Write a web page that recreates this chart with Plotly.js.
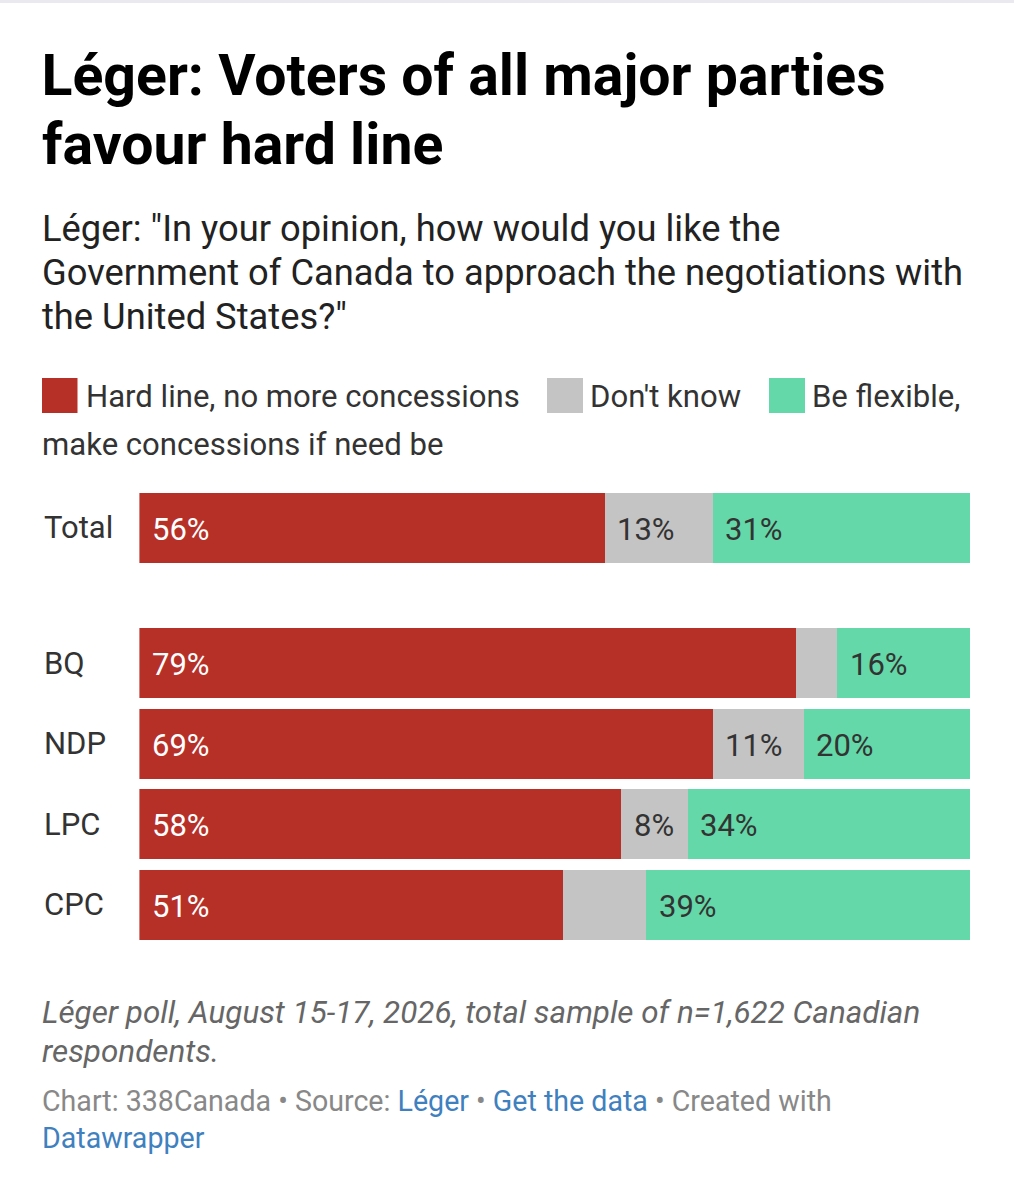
<!DOCTYPE html>
<html><head><meta charset="utf-8">
<script src="https://cdn.plot.ly/plotly-3.0.1.min.js"></script>
<style>html,body{margin:0;padding:0;background:#fff}</style></head>
<body><div id="chart" style="width:1014px;height:1199px"></div>
<script>
const totalCategories = ["Total"];
const partyCategories = ["BQ", "NDP", "LPC", "CPC"];
const hardLineTotal = [56];
const dontKnowTotal = [13];
const flexibleTotal = [31];
const hardLineParty = [79, 69, 58, 51];
const dontKnowParty = [5, 11, 8, 10];
const flexibleParty = [16, 20, 34, 39];
const dontKnowTotalLabels = ["13%"];
const dontKnowPartyLabels = ["", "11%", "8%", ""];
const seriesNames = ["Hard line, no more concessions", "Don't know", "Be flexible, make concessions if need be"];
const subtitleLines = ['Léger: "In your opinion, how would you like the', "Government of Canada to approach the negotiations with", 'the United States?"'];
const noteLines = ["Léger poll, August 15-17, 2026, total sample of n=1,622 Canadian", "respondents."];
const RED = "#b73028", GREY = "#c4c4c4", GREEN = "#64d8a8", INK = "#333333";
const W = 1014, H = 1199, FONT = "Roboto, sans-serif";
const px = v => v / W, py = v => 1 - v / H;

function bar(name, cats, vals, color, yaxis) {
  return {type: "bar", orientation: "h", name, y: cats, x: vals, yaxis, xaxis: "x",
    marker: {color, line: {width: 0}}, hoverinfo: "y+x+name", showlegend: false};
}
const traces = [
  bar(seriesNames[0], totalCategories, hardLineTotal, RED, "y"),
  bar(seriesNames[1], totalCategories, dontKnowTotal, GREY, "y"),
  bar(seriesNames[2], totalCategories, flexibleTotal, GREEN, "y"),
  bar(seriesNames[0], partyCategories, hardLineParty, RED, "y2"),
  bar(seriesNames[1], partyCategories, dontKnowParty, GREY, "y2"),
  bar(seriesNames[2], partyCategories, flexibleParty, GREEN, "y2")
];

function text(t, x, y, size, color) {
  return {text: t, xref: "paper", yref: "paper", x: px(x - 2.5), y: py(y), xanchor: "left", yanchor: "middle",
    showarrow: false, align: "left", font: {family: FONT, size, color}};
}
const annotations = [];
const ROW = 31;
function rowLabels(cats, a, b, c, bLabels, yref) {
  cats.forEach((cat, i) => {
    annotations.push({text: cat, xref: "paper", yref, x: px(42), y: cat, xanchor: "left", yanchor: "middle", yshift: 0,
      showarrow: false, font: {family: FONT, size: ROW, color: INK}});
    const common = {xref: "x", yref, y: cat, xanchor: "left", yanchor: "middle", xshift: 10.5, yshift: -1.5, showarrow: false};
    annotations.push(Object.assign({text: a[i] + "%", x: 0, font: {family: FONT, size: ROW, color: "#ffffff"}}, common));
    if (bLabels[i]) annotations.push(Object.assign({text: bLabels[i], x: a[i], font: {family: FONT, size: ROW, color: INK}}, common));
    annotations.push(Object.assign({text: c[i] + "%", x: a[i] + b[i], font: {family: FONT, size: ROW, color: INK}}, common));
  });
}
rowLabels(totalCategories, hardLineTotal, dontKnowTotal, flexibleTotal, dontKnowTotalLabels, "y");
rowLabels(partyCategories, hardLineParty, dontKnowParty, flexibleParty, dontKnowPartyLabels, "y2");

annotations.push(text("<b>favour hard line</b>", 42, 144, 57.2, "#000000"));
subtitleLines.forEach((l, i) => annotations.push(text(l, 42, 228.5 + 44 * i, 36.3, "#222222")));
annotations.push(
  text("Hard line, no more concessions", 86, 396.5, 31.1, INK),
  text("Don't know", 590.5, 396.5, 31.1, INK),
  text("Be flexible,", 812.5, 396.5, 31.1, INK),
  text("make concessions if need be", 42, 444.5, 31.1, INK)
);
noteLines.forEach((l, i) => annotations.push(text("<i>" + l + "</i>", 42, 1012.5 + 39 * i, 31.4, "#666666")));
annotations.push(
  text('Chart: 338Canada • Source: <span style="color:#3f80bf">Léger</span> • <span style="color:#3f80bf">Get the data</span> • Created with<br><span style="color:#3f80bf">Datawrapper</span>', 42, 1119.5, 28.6, "#888888")
);

function box(x0, y0, x1, y1, color) {
  return {type: "rect", xref: "paper", yref: "paper", x0: px(x0), x1: px(x1), y0: py(y0), y1: py(y1),
    fillcolor: color, line: {width: 0}, layer: "above"};
}
const shapes = [
  box(0, 0, 1014, 3, "#e9e9ef"),
  box(42, 378, 77.5, 413, RED),
  box(547, 378, 583, 413, GREY),
  box(769, 378, 805, 413, GREEN)
];

const layout = {
  width: W, height: H, margin: {l: 0, r: 0, t: 0, b: 0}, paper_bgcolor: "#ffffff", plot_bgcolor: "#ffffff",
  font: {family: FONT}, showlegend: false, barmode: "stack", bargap: 0.13,
  title: {text: "<b>Léger: Voters of all major parties</b>", x: px(41.5), xref: "paper", xanchor: "left",
    y: py(75), yref: "paper", yanchor: "middle", font: {family: FONT, size: 57.2, color: "#000000"}},
  xaxis: {domain: [px(139.4), px(970)], range: [0, 100], visible: false, fixedrange: true, anchor: "y"},
  yaxis: {domain: [py(568.25), py(487.75)], type: "category", categoryorder: "array", categoryarray: totalCategories,
    autorange: "reversed", visible: false, fixedrange: true, anchor: "x"},
  yaxis2: {domain: [py(945.2), py(623.2)], type: "category", categoryorder: "array", categoryarray: partyCategories,
    autorange: "reversed", visible: false, fixedrange: true, anchor: "x"},
  annotations, shapes
};
Plotly.newPlot("chart", traces, layout, {displayModeBar: false, responsive: false});
</script></body></html>
